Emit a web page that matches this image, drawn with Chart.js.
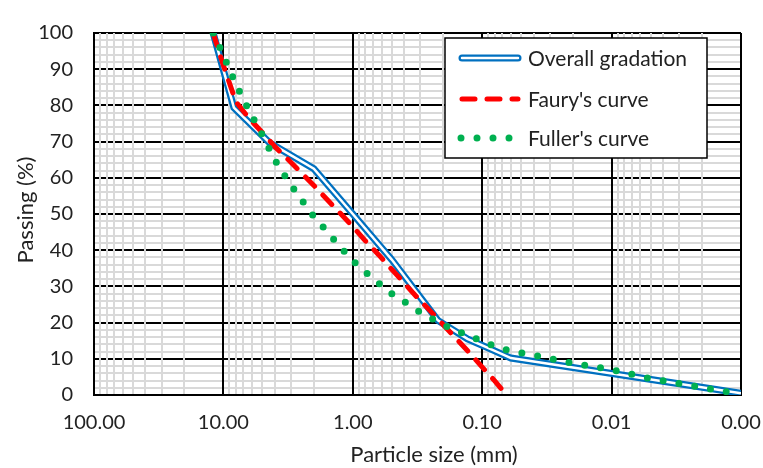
<!DOCTYPE html>
<html>
<head>
<meta charset="utf-8">
<script src="https://cdn.jsdelivr.net/npm/chart.js@4"></script>
<style>
  body { margin: 0; background: #fff; }
  #wrap { width: 763px; height: 468px; }
</style>
</head>
<body>
<div id="wrap"><canvas id="chart" width="763" height="468"></canvas></div>
<script>
// Grading curves: particle size (mm) vs passing (%)
const gradSize = [12, 8.3, 4.4, 2.0, 1.0, 0.5, 0.22, 0.13, 0.085, 0.06, 0.001];
const gradPass = [100, 79.4, 69.7, 62.5, 50, 37.4, 20.6, 15.5, 12.6, 10.2, 0.5];

const fauSize = [12, 10, 8, 6.3, 5, 4, 3.15, 2.5, 2, 1.6, 1.25, 1, 0.8, 0.63, 0.5, 0.4, 0.315, 0.25, 0.2, 0.16, 0.125, 0.1, 0.08, 0.065];
const fauPass = [100, 91, 81, 76.3, 72.5, 68.6, 65, 61.4, 57.9, 54.2, 50.2, 46.5, 42.6, 38.7, 34.7, 30.9, 26.8, 23.1, 19.4, 15.7, 11.6, 7.7, 3.9, 0];

const fulSize = [12, 10, 8, 6.3, 5, 4, 3.15, 2.5, 2, 1.6, 1.25, 1, 0.8, 0.63, 0.5, 0.4, 0.315, 0.25, 0.2, 0.16, 0.125, 0.1, 0.08, 0.063, 0.04, 0.02, 0.01, 0.005, 0.002, 0.001];
const fulPass = [100, 93.8, 85.8, 78.4, 71.8, 64.9, 59, 54, 49.3, 45.4, 40.9, 37.1, 34, 30.9, 28, 25.8, 23.3, 21.3, 19.4, 17.8, 16.4, 14.7, 13.5, 12.3, 11, 8.8, 7, 4.5, 2.1, 0.2];

const seriesNames = ['Overall gradation', "Faury's curve", "Fuller's curve"];
const xDecades = [100, 10, 1, 0.1, 0.01, 0.001];
const yTicks = [0, 10, 20, 30, 40, 50, 60, 70, 80, 90, 100];
const xTitle = 'Particle size (mm)';
const yTitle = 'Passing (%)';

const BLUE = '#0070c0';
const RED = '#ff0000';
const GREEN = '#00b050';
const MINOR = '#d9d9d9';
const TEXT = '#222';

const toPts = (xs, ys) => xs.map((x, i) => ({ x, y: ys[i] }));

// log ticks 1..9 per decade, so the minor grid shows up
const xTickVals = [];
for (let e = -3; e <= 1; e++) {
  for (let m = 1; m <= 9; m++) xTickVals.push(+(m * Math.pow(10, e)).toPrecision(6));
}
xTickVals.push(100);
const isDecade = v => xDecades.some(d => Math.abs(d - v) / d < 1e-6);

// axis titles placed by hand (x title sits a bit right of the plot centre)
const axisTitles = {
  id: 'axisTitles',
  afterDraw(chart) {
    const ctx = chart.ctx;
    ctx.save();
    ctx.fillStyle = TEXT;
    ctx.font = '22px Lato';
    ctx.textAlign = 'center';
    ctx.textBaseline = 'middle';
    ctx.fillText(xTitle, 434, 455);
    ctx.translate(26, 210);
    ctx.rotate(-Math.PI / 2);
    ctx.fillText(yTitle, 0, 0);
    ctx.restore();
  }
};

// legend box sitting inside the plot, top right
const boxLegend = {
  id: 'boxLegend',
  afterDraw(chart) {
    const ctx = chart.ctx;
    const x0 = 445, y0 = 38, w = 262, h = 120;
    ctx.save();
    ctx.fillStyle = '#fff';
    ctx.fillRect(x0, y0, w, h);
    ctx.strokeStyle = '#000';
    ctx.lineWidth = 1.5;
    ctx.strokeRect(x0, y0, w, h);

    const rows = [58, 99, 138];
    const sx0 = 462, sx1 = 518;
    ctx.lineCap = 'round';
    // double blue line
    ctx.strokeStyle = BLUE; ctx.lineWidth = 7;
    ctx.beginPath(); ctx.moveTo(sx0, rows[0]); ctx.lineTo(sx1, rows[0]); ctx.stroke();
    ctx.strokeStyle = '#fff'; ctx.lineWidth = 2.5;
    ctx.beginPath(); ctx.moveTo(sx0, rows[0]); ctx.lineTo(sx1, rows[0]); ctx.stroke();
    // dashed red
    ctx.strokeStyle = RED; ctx.lineWidth = 5;
    ctx.setLineDash([13, 12]);
    ctx.beginPath(); ctx.moveTo(sx0, rows[1]); ctx.lineTo(sx1, rows[1]); ctx.stroke();
    // dotted green
    ctx.strokeStyle = GREEN; ctx.lineWidth = 7;
    ctx.setLineDash([0, 16]);
    ctx.beginPath(); ctx.moveTo(sx0 - 1, rows[2]); ctx.lineTo(sx1 + 2, rows[2]); ctx.stroke();
    ctx.setLineDash([]);

    ctx.fillStyle = TEXT;
    ctx.font = '21px Lato';
    ctx.textBaseline = 'middle';
    seriesNames.forEach((n, i) => ctx.fillText(n, 528, rows[i] + 1));
    ctx.restore();
  }
};

Chart.defaults.font.family = 'Lato';
Chart.defaults.font.size = 20;
Chart.defaults.color = TEXT;

new Chart(document.getElementById('chart'), {
  type: 'line',
  data: {
    datasets: [
      {
        label: seriesNames[2], data: toPts(fulSize, fulPass),
        borderColor: GREEN, borderWidth: 7, borderDash: [0, 16],
        borderCapStyle: 'round', pointRadius: 0, order: 0
      },
      {
        label: seriesNames[1], data: toPts(fauSize, fauPass),
        borderColor: RED, borderWidth: 5, borderDash: [13, 12],
        borderCapStyle: 'round', pointRadius: 0, order: 1
      },
      {
        label: 'inner', data: toPts(gradSize, gradPass),
        borderColor: '#fff', borderWidth: 2.5, pointRadius: 0, order: 2
      },
      {
        label: seriesNames[0], data: toPts(gradSize, gradPass),
        borderColor: BLUE, borderWidth: 7, pointRadius: 0, order: 3
      }
    ]
  },
  options: {
    responsive: false,
    animation: false,
    layout: { padding: { left: 0, right: 22, top: 21, bottom: 0 } },
    plugins: { legend: { display: false }, tooltip: { enabled: false } },
    scales: {
      y: {
        min: 0, max: 100,
        afterFit: s => { s.width = 94; },
        afterBuildTicks: s => {
          const t = [];
          for (let v = 0; v <= 100; v += 2) t.push({ value: v });
          s.ticks = t;
        },
        ticks: {
          autoSkip: false,
          padding: 21,
          callback: v => (yTicks.includes(v) ? String(v) : '')
        },
        grid: {
          drawTicks: false,
          lineWidth: 2,
          color: c => (c.tick && c.tick.value % 10 === 0 ? '#000' : MINOR)
        },
        border: { color: '#000', width: 2 }
      },
      x: {
        type: 'logarithmic',
        reverse: true,
        min: 0.001, max: 100,
        afterFit: s => { s.height = 73; },
        afterBuildTicks: s => { s.ticks = xTickVals.map(v => ({ value: v })); },
        ticks: {
          autoSkip: false, maxRotation: 0, padding: 16,
          callback: v => (isDecade(v) ? v.toFixed(2) : '')
        },
        grid: {
          drawTicks: false,
          lineWidth: 2,
          color: c => (c.tick && isDecade(c.tick.value) ? '#000' : MINOR)
        },
        border: { color: '#000', width: 2 }
      }
    }
  },
  plugins: [boxLegend, axisTitles]
});
</script>
</body>
</html>
